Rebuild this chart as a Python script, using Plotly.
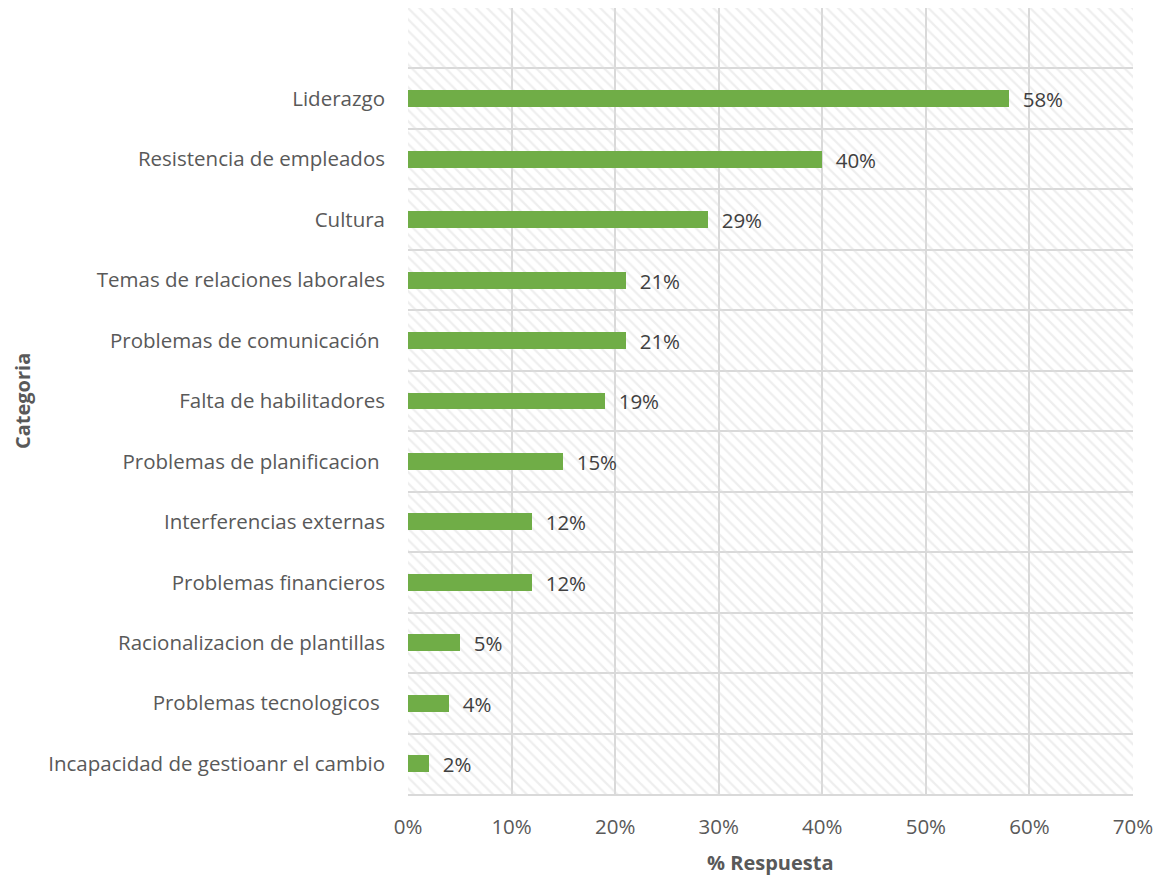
import plotly.graph_objects as go

# Survey results: share of respondents citing each barrier (percent)
categories = [
    "Incapacidad de gestioanr el cambio",
    "Problemas tecnologicos\u00a0",
    "Racionalizacion de plantillas",
    "Problemas financieros",
    "Interferencias externas",
    "Problemas de planificacion\u00a0",
    "Falta de habilitadores",
    "Problemas de comunicación\u00a0",
    "Temas de relaciones laborales",
    "Cultura",
    "Resistencia de empleados",
    "Liderazgo",
]
values = [2, 4, 5, 12, 12, 15, 19, 21, 21, 29, 40, 58]
x_ticks = [0, 10, 20, 30, 40, 50, 60, 70]

FONT = "Open Sans"
FS = 20.5
GRID = "#d9d9d9"
TEXT = "#595959"

positions = list(range(len(categories)))
n_slots = len(categories) + 1  # one empty slot above the top bar
slot_positions = list(range(n_slots))

fig = go.Figure()

# hatched plot background, one band per slot (transparent so the grid shows)
fig.add_trace(go.Bar(
    y=slot_positions,
    x=[x_ticks[-1]] * n_slots,
    orientation="h",
    width=1,
    marker=dict(
        color="rgba(0,0,0,0)",
        line=dict(width=0),
        pattern=dict(shape="\\", fgcolor="#dedede", bgcolor="rgba(0,0,0,0)",
                     size=8, solidity=0.28),
    ),
    hoverinfo="skip",
    showlegend=False,
))

fig.add_trace(go.Bar(
    y=positions,
    x=values,
    orientation="h",
    width=0.28,
    marker=dict(color="#70ad47", line=dict(width=0)),
    text=[f"\u00a0\u00a0{v}%" for v in values],
    textposition="outside",
    constraintext="none",
    textfont=dict(family=FONT, size=FS, color="#404040"),
    cliponaxis=False,
    showlegend=False,
))

fig.update_layout(
    width=1160,
    height=876,
    margin=dict(l=408, r=27, t=8, b=82),
    paper_bgcolor="white",
    plot_bgcolor="white",
    barmode="overlay",
    bargap=0,
    font=dict(family=FONT, size=FS, color=TEXT),
    xaxis=dict(
        range=[0, 70],
        tickvals=x_ticks,
        ticktext=[f"{t}%" for t in x_ticks],
        showgrid=True,
        gridcolor=GRID,
        gridwidth=2,
        zeroline=False,
        showline=True,
        linecolor=GRID,
        linewidth=2,
        ticks="",
        ticklabelstandoff=13,
        tickfont=dict(family=FONT, size=FS, color=TEXT),
    ),
    yaxis=dict(
        range=[-0.5, n_slots - 0.5],
        tickvals=positions,
        ticktext=categories,
        showgrid=False,
        zeroline=False,
        showline=False,
        ticks="",
        ticklabelstandoff=22,
        tickfont=dict(family=FONT, size=FS, color=TEXT),
        minor=dict(
            tickvals=[p + 0.5 for p in range(-1, n_slots)],
            showgrid=True,
            gridcolor=GRID,
            gridwidth=2,
            ticks="",
        ),
    ),
    annotations=[
        dict(text="<b>% Respuesta</b>", xref="paper", yref="paper",
             x=0.5, y=0, yshift=-68, yanchor="middle", showarrow=False,
             font=dict(family=FONT, size=20, color=TEXT)),
        dict(text="<b>Categoria</b>", xref="paper", yref="paper",
             x=0, xshift=-386, xanchor="center", y=0.5, textangle=-90,
             showarrow=False,
             font=dict(family=FONT, size=20, color=TEXT)),
    ],
)

fig.write_html("out.html")
